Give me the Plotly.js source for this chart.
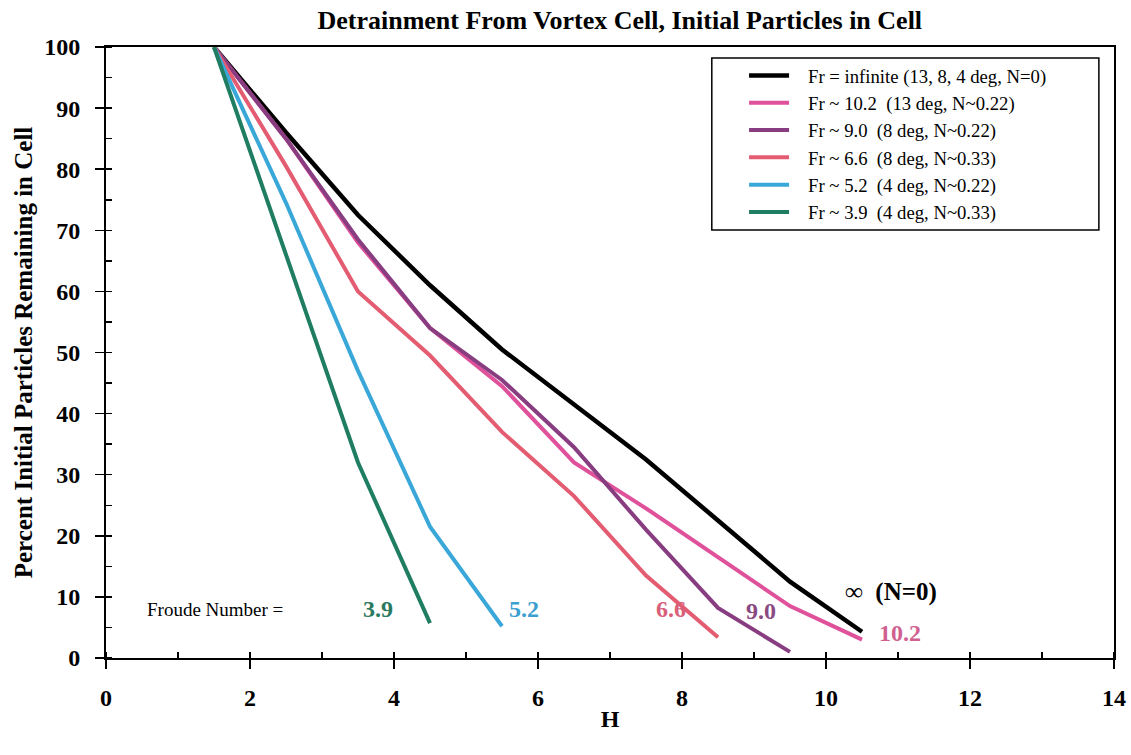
<!DOCTYPE html>
<html>
<head>
<meta charset="utf-8">
<script src="https://cdn.plot.ly/plotly-3.0.1.min.js"></script>
<style>html,body{margin:0;padding:0;background:#fff;}#chart{width:1131px;height:755px;}</style>
</head>
<body>
<div id="chart"></div>
<script>
// H values (x) per series
const hInf  = [1.5, 2.5, 3.5, 4.5, 5.5, 6.5, 7.5, 8.5, 9.5, 10.5];
const pInf  = [100, 86, 72.5, 61, 50.5, 41.5, 32.5, 22.5, 12.5, 4.3];
const h102  = [1.5, 2.5, 3.5, 4.5, 5.5, 6.5, 7.5, 8.5, 9.5, 10.5];
const p102  = [100, 85, 68, 54, 44.5, 32, 24.5, 16.5, 8.5, 3];
const h90   = [1.5, 2.5, 3.5, 4.5, 5.5, 6.5, 7.5, 8.5, 9.5];
const p90   = [100, 85, 68.5, 54, 45.5, 34.5, 21, 8.2, 1];
const h66   = [1.5, 2.5, 3.5, 4.5, 5.5, 6.5, 7.5, 8.5];
const p66   = [100, 80.5, 60, 49.5, 37, 26.5, 13.5, 3.4];
const h52   = [1.5, 2.5, 3.5, 4.5, 5.5];
const p52   = [100, 74.5, 47, 21.5, 5.2];
const h39   = [1.5, 2.5, 3.5, 4.5];
const p39   = [100, 66, 32, 5.7];

const seriesNames = [
  "Fr = infinite (13, 8, 4 deg, N=0)",
  "Fr ~ 10.2  (13 deg, N~0.22)",
  "Fr ~ 9.0  (8 deg, N~0.22)",
  "Fr ~ 6.6  (8 deg, N~0.33)",
  "Fr ~ 5.2  (4 deg, N~0.22)",
  "Fr ~ 3.9  (4 deg, N~0.33)"
];
const colors = ["#000000", "#e0519b", "#873d80", "#e35c72", "#3aa7d9", "#1f7d62"];

const curveLabels = ["3.9", "5.2", "6.6", "9.0", "\u221E  (N=0)", "10.2"];
const labelX = [3.78, 5.8, 7.85, 9.1, 10.9, 11.03];
const labelY = [8.0, 8.0, 8.0, 7.7, 10.8, 4.1];
const labelColors = ["#2b7a60", "#3b9fd0", "#d8607a", "#8a4a82", "#000000", "#d0608f"];

const xs = [hInf, h102, h90, h66, h52, h39];
const ys = [pInf, p102, p90, p66, p52, p39];

const serif = "Liberation Serif, Times New Roman, serif";

const traces = xs.map((x, i) => ({
  x: x, y: ys[i], type: "scatter", mode: "lines",
  name: "\u00a0\u00a0\u00a0" + seriesNames[i],
  line: {color: colors[i], width: i === 0 ? 4.5 : 4}
}));

const annotations = curveLabels.map((t, i) => ({
  x: labelX[i], y: labelY[i], xref: "x", yref: "y", text: "<b>" + t + "</b>",
  showarrow: false, font: {family: serif, size: i === 4 ? 25 : 24, color: labelColors[i]}
}));
annotations.push({
  x: 1.52, y: 8.0, xref: "x", yref: "y", text: "Froude Number =",
  showarrow: false, font: {family: serif, size: 19, color: "#000"}
});

const layout = {
  width: 1131, height: 755,
  margin: {l: 106, r: 17, t: 47, b: 97},
  paper_bgcolor: "#fff", plot_bgcolor: "#fff",
  font: {family: serif, color: "#000"},
  title: {text: "<b>Detrainment From Vortex Cell, Initial Particles in Cell</b>",
          font: {family: serif, size: 26, color: "#000"}, x: 0.548, xanchor: "center", y: 0.974, yanchor: "middle"},
  xaxis: {
    range: [0, 14], dtick: 2, tick0: 0, showgrid: false, zeroline: false,
    showline: true, linecolor: "#000", linewidth: 2, mirror: true,
    ticks: "outside", ticklen: 9, tickwidth: 1.5, tickcolor: "#000",
    ticklabelstandoff: 8,
    minor: {dtick: 1, ticks: "inside", ticklen: 6, tickwidth: 1.5, tickcolor: "#000", showgrid: false},
    tickfont: {family: serif, size: 24, color: "#000", weight: "bold"},
    title: {text: "<b>H</b>", font: {family: serif, size: 24, color: "#000"}, standoff: 0}
  },
  yaxis: {
    range: [0, 100], dtick: 10, tick0: 0, showgrid: false, zeroline: false,
    showline: true, linecolor: "#000", linewidth: 2, mirror: true,
    ticks: "outside", ticklen: 9, tickwidth: 1.5, tickcolor: "#000",
    ticklabelstandoff: 10,
    minor: {dtick: 5, ticks: "inside", ticklen: 6, tickwidth: 1.5, tickcolor: "#000", showgrid: false},
    tickfont: {family: serif, size: 24, color: "#000", weight: "bold"},
    title: {text: "<b>Percent Initial Particles Remaining in Cell</b>", font: {family: serif, size: 25, color: "#000"}, standoff: 4}
  },
  showlegend: true,
  legend: {
    x: 0.633, y: 0.984, xanchor: "left", yanchor: "top",
    bgcolor: "rgba(0,0,0,0)", borderwidth: 0,
    font: {family: serif, size: 18.7, color: "#000"},
    itemwidth: 40, tracegroupgap: 0
  },
  shapes: [{
    type: "rect", xref: "paper", yref: "paper",
    x0: 0.601, x1: 0.985, y0: 0.7005, y1: 0.982,
    line: {color: "#000", width: 1.5}, fillcolor: "#fff", layer: "below"
  }],
  annotations: annotations
};

Plotly.newPlot("chart", traces, layout, {displayModeBar: false, staticPlot: true});
</script>
</body>
</html>
